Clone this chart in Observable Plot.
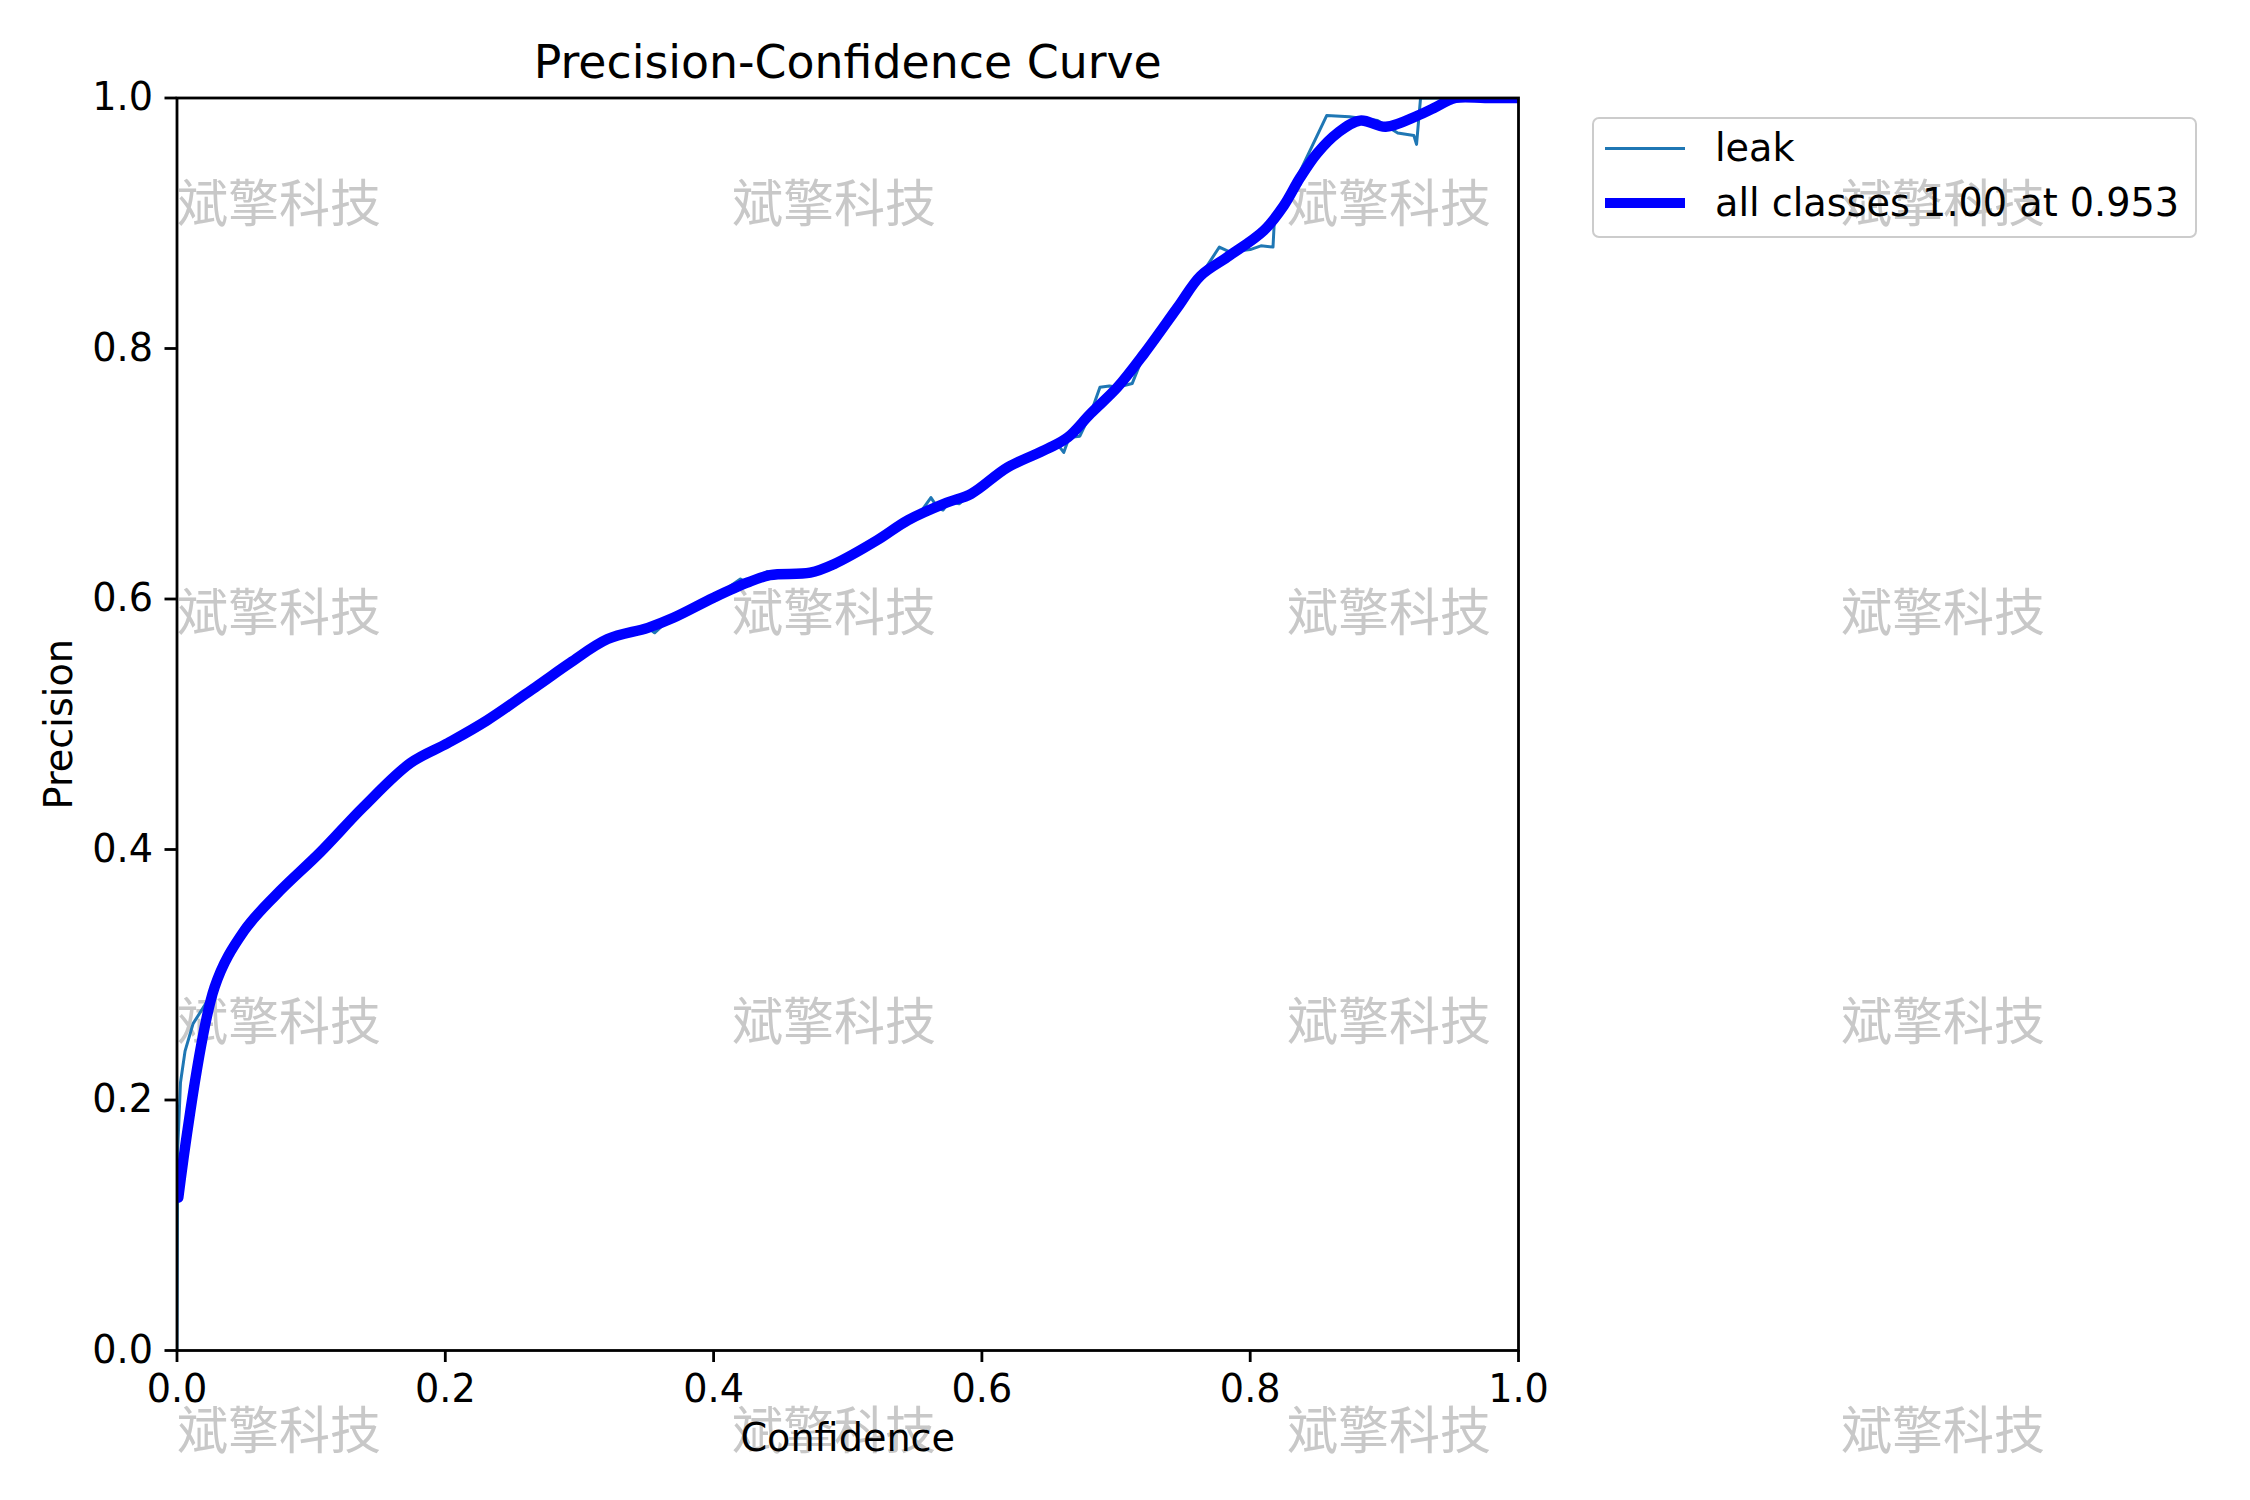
<!DOCTYPE html>
<html>
<head>
<meta charset="utf-8">
<script src="https://cdn.jsdelivr.net/npm/d3@7"></script>
<script src="https://cdn.jsdelivr.net/npm/@observablehq/plot@0.6"></script>
<style>
  body { margin: 0; background: white; }
  #chart { position: relative; width: 2250px; height: 1500px; font-family: "DejaVu Sans", sans-serif; }
  #chart svg { position: absolute; left: 0; top: 0; }
  .legend { position: absolute; left: 1592px; top: 117px; width: 605px; height: 121px;
            box-sizing: border-box; border: 2.8px solid #cccccc; border-radius: 7px; }
  .row { position: absolute; left: 1605px; height: 40px; display: flex; align-items: center;
         font-size: 38.2px; color: black; white-space: nowrap; }
  .swatch { width: 80px; margin-right: 30px; }
</style>
</head>
<body>
<div id="chart"></div>
<script>
// all classes (smoothed) curve
const allConf = [0.001, 0.028, 0.05, 0.074, 0.107, 0.139, 0.174, 0.202, 0.231, 0.269, 0.293, 0.321, 0.351, 0.370, 0.400, 0.425, 0.442, 0.472, 0.490, 0.522, 0.545, 0.574, 0.592, 0.619, 0.649, 0.664, 0.681, 0.701, 0.721, 0.746, 0.763, 0.783, 0.810, 0.825, 0.837, 0.850, 0.865, 0.882, 0.901, 0.925, 0.937, 0.953, 0.975, 1.0];
const allPrec = [0.122, 0.290, 0.335, 0.364, 0.398, 0.434, 0.469, 0.485, 0.503, 0.531, 0.549, 0.568, 0.577, 0.585, 0.601, 0.613, 0.619, 0.621, 0.628, 0.647, 0.663, 0.677, 0.684, 0.705, 0.720, 0.729, 0.748, 0.769, 0.796, 0.833, 0.858, 0.873, 0.894, 0.914, 0.936, 0.956, 0.972, 0.982, 0.977, 0.986, 0.992, 1.0, 1.0, 1.0];

// leak class curve
const leakConf = [0, 0.0005, 0.0026, 0.006, 0.012, 0.025, 0.031, 0.05, 0.074, 0.107, 0.139, 0.174, 0.202, 0.231, 0.269, 0.293, 0.321, 0.351, 0.356, 0.362, 0.370, 0.400, 0.420, 0.426, 0.440, 0.444, 0.472, 0.490, 0.522, 0.530, 0.545, 0.552, 0.556, 0.562, 0.567, 0.571, 0.576, 0.583, 0.592, 0.600, 0.619, 0.649, 0.656, 0.661, 0.665, 0.673, 0.681, 0.688, 0.695, 0.701, 0.712, 0.721, 0.736, 0.746, 0.763, 0.777, 0.785, 0.800, 0.808, 0.817, 0.818, 0.825, 0.841, 0.857, 0.874, 0.895, 0.910, 0.922, 0.924, 0.927, 1.0];
const leakPrec = [0, 0.16, 0.214, 0.239, 0.261, 0.283, 0.302, 0.335, 0.364, 0.398, 0.434, 0.469, 0.485, 0.503, 0.531, 0.549, 0.568, 0.577, 0.573, 0.579, 0.585, 0.601, 0.616, 0.612, 0.622, 0.618, 0.621, 0.627, 0.648, 0.650, 0.663, 0.665, 0.672, 0.681, 0.673, 0.671, 0.678, 0.676, 0.684, 0.690, 0.705, 0.720, 0.724, 0.717, 0.729, 0.730, 0.748, 0.769, 0.770, 0.769, 0.772, 0.796, 0.814, 0.833, 0.858, 0.881, 0.877, 0.879, 0.882, 0.881, 0.902, 0.914, 0.950, 0.986, 0.985, 0.982, 0.972, 0.970, 0.963, 1.0, 1.0];

const ticks = [0, 0.2, 0.4, 0.6, 0.8, 1.0];
const seriesNames = ["leak", "all classes 1.00 at 0.953"];
const seriesColors = ["#1f77b4", "blue"];
const title = "Precision-Confidence Curve";
const xLabel = "Confidence";
const yLabel = "Precision";
const watermark = "斌擎科技";

const allRows = allConf.map((c, i) => ({conf: c, prec: allPrec[i]}));
const leakRows = leakConf.map((c, i) => ({conf: c, prec: leakPrec[i]}));

const fs = 38.2;

const chart = Plot.plot({
  width: 2250,
  height: 1500,
  marginLeft: 176.5,
  marginRight: 732,
  marginTop: 97.5,
  marginBottom: 150,
  style: {fontFamily: "DejaVu Sans", background: "transparent", overflow: "visible"},
  x: {domain: [0, 1]},
  y: {domain: [0, 1]},
  marks: [
    Plot.line(leakRows, {x: "conf", y: "prec", stroke: seriesColors[0], strokeWidth: 3, clip: true}),
    Plot.line(allRows, {x: "conf", y: "prec", stroke: seriesColors[1], strokeWidth: 10.4, curve: "catmull-rom", clip: true}),
    Plot.frame({stroke: "black", strokeWidth: 2.8}),
    Plot.axisX({ticks: ticks, tickFormat: d3.format(".1f"), tickSize: 12, tickPadding: 12, fontSize: fs, strokeWidth: 2.8, label: null}),
    Plot.axisY({ticks: ticks, tickFormat: d3.format(".1f"), tickSize: 12, tickPadding: 12, fontSize: fs, strokeWidth: 2.8, label: null}),
    Plot.text([title], {text: d => d, frameAnchor: "top", dy: -35, fontSize: 45.8, lineAnchor: "middle", fill: "black"}),
    Plot.text([xLabel], {text: d => d, frameAnchor: "bottom", dy: 88.7, fontSize: fs, lineAnchor: "middle", fill: "black"}),
    Plot.text([yLabel], {text: d => d, frameAnchor: "left", dx: -117, rotate: -90, textAnchor: "middle", fontSize: fs, lineAnchor: "middle", fill: "black"})
  ]
});

// watermark grid behind everything
const wmCols = [177, 732, 1287, 1841];
const wmRows = [204, 613, 1022, 1431];
const wm = d3.select(chart).insert("g", ":first-child")
  .attr("fill", "#c8c8c8")
  .attr("font-family", "Noto Sans CJK SC")
  .attr("font-size", 51)
  .attr("text-anchor", "start");
for (const y of wmRows) {
  for (const x of wmCols) {
    wm.append("text").attr("x", x).attr("y", y).attr("dy", "0.36em").text(watermark);
  }
}

const root = d3.select("#chart");
root.append(() => chart);

// legend
root.append("div").attr("class", "legend");
const rowTops = [128, 183];
const swatchWidths = [3, 10.4];
seriesNames.forEach((name, i) => {
  const row = root.append("div").attr("class", "row").style("top", rowTops[i] + "px");
  row.append("div").attr("class", "swatch")
    .style("height", swatchWidths[i] + "px")
    .style("background", seriesColors[i]);
  row.append("span").text(name);
});
</script>
</body>
</html>
